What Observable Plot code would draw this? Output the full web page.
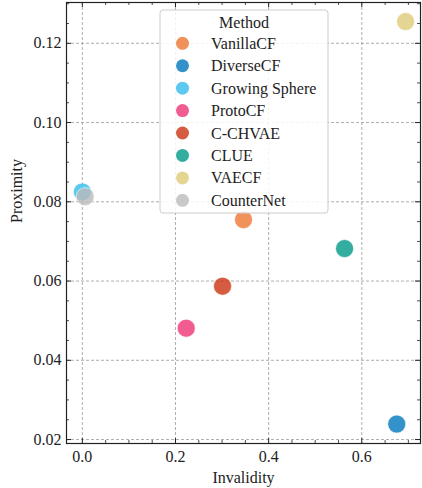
<!DOCTYPE html>
<html><head><meta charset="utf-8">
<script src="https://cdn.jsdelivr.net/npm/d3@7"></script>
<script src="https://cdn.jsdelivr.net/npm/@observablehq/plot@0.6"></script>
<style>body{margin:0;background:#fff}</style>
</head><body><div id="chart"></div>
<script>
const methods = ["VanillaCF","DiverseCF","Growing Sphere","ProtoCF","C-CHVAE","CLUE","VAECF","CounterNet"];
const invalidity = [0.346, 0.675, 0.000, 0.223, 0.301, 0.563, 0.694, 0.006];
const proximity = [0.0755, 0.0239, 0.0825, 0.0481, 0.0587, 0.0682, 0.1255, 0.0813];
const colors = ["#EE7733","#0077BB","#33BBEE","#EE3377","#CC3311","#009988","#DDCC77","#BBBBBB"];
const xMajor = [0, 0.2, 0.4, 0.6];
const yMajor = [0.02, 0.04, 0.06, 0.08, 0.10, 0.12];
const xMinor = d3.range(-0.0, 0.726, 0.05).map(v => +v.toFixed(3)).filter(v => !xMajor.some(m => Math.abs(m - v) < 1e-6));
const yMinor = d3.range(0.02, 0.1303, 0.005).map(v => +v.toFixed(4)).filter(v => !yMajor.some(m => Math.abs(m - v) < 1e-6));

const data = methods.map((m, i) => ({method: m, x: invalidity[i], y: proximity[i]}));

const W = 422, H = 488, mL = 66, mR = 2, mT = 2, mB = 45;
const pw = W - mL - mR, ph = H - mT - mB;
const font = "Liberation Serif";

const chart = Plot.plot({
  width: W, height: H,
  marginLeft: mL, marginRight: mR, marginTop: mT, marginBottom: mB,
  style: {fontFamily: font, fontSize: "16px", background: "white", color: "#222"},
  x: {domain: [-0.034, 0.726], axis: null},
  y: {domain: [0.019, 0.1303], axis: null},
  color: {domain: methods, range: colors},
  marks: [
    Plot.ruleX(xMajor, {stroke: "#999", strokeWidth: 0.8, strokeDasharray: "3,2"}),
    Plot.ruleY(yMajor, {stroke: "#999", strokeWidth: 0.8, strokeDasharray: "3,2"}),
    Plot.tickX(xMajor, {x: d => d, insetTop: ph - 5, stroke: "#222"}),
    Plot.tickX(xMajor, {x: d => d, insetBottom: ph - 5, stroke: "#222"}),
    Plot.tickY(yMajor, {y: d => d, insetRight: pw - 5, stroke: "#222"}),
    Plot.tickY(yMajor, {y: d => d, insetLeft: pw - 5, stroke: "#222"}),
    Plot.tickX(xMinor, {x: d => d, insetTop: ph - 3, stroke: "#222", strokeWidth: 0.8}),
    Plot.tickX(xMinor, {x: d => d, insetBottom: ph - 3, stroke: "#222", strokeWidth: 0.8}),
    Plot.tickY(yMinor, {y: d => d, insetRight: pw - 3, stroke: "#222", strokeWidth: 0.8}),
    Plot.tickY(yMinor, {y: d => d, insetLeft: pw - 3, stroke: "#222", strokeWidth: 0.8}),
    Plot.dot(data, {x: "x", y: "y", fill: "method", r: 9, fillOpacity: 0.8, stroke: "white", strokeWidth: 0.6}),
    Plot.frame({stroke: "#222", strokeWidth: 1.2}),
    Plot.text(xMajor, {x: d => d, frameAnchor: "bottom", dy: 13, text: d => d.toFixed(1), lineAnchor: "middle", fontSize: 16, fontFamily: font}),
    Plot.text(yMajor, {y: d => d, frameAnchor: "left", dx: -5, textAnchor: "end", text: d => d.toFixed(2), lineAnchor: "middle", fontSize: 16, fontFamily: font}),
    Plot.text(["Invalidity"], {frameAnchor: "bottom", dy: 34, text: d => d, lineAnchor: "middle", fontSize: 16, fontFamily: font}),
    Plot.text(["Proximity"], {frameAnchor: "left", dx: -50, rotate: -90, text: d => d, lineAnchor: "middle", fontSize: 16, fontFamily: font})
  ]
});

const svg = d3.select(chart);
const g = svg.append("g").style("font-family", font).attr("font-size", 16).attr("text-anchor", "start");
const lx = 160, ly = 10, lw = 168, lh = 203;
g.append("rect").attr("x", lx).attr("y", ly).attr("width", lw).attr("height", lh)
  .attr("rx", 3).attr("fill", "white").attr("fill-opacity", 0.85).attr("stroke", "#ccc").attr("stroke-width", 1);
g.append("text").attr("x", lx + lw / 2).attr("y", 22.7).attr("dy", "0.35em").attr("text-anchor", "middle").attr("fill", "#222").text("Method");
methods.forEach((m, i) => {
  const cy = 43.3 + i * 22.43;
  g.append("circle").attr("cx", 182.5).attr("cy", cy).attr("r", 6.5).attr("fill", colors[i]).attr("fill-opacity", 0.8);
  g.append("text").attr("x", 211).attr("y", cy).attr("dy", "0.35em").attr("text-anchor", "start").attr("fill", "#222").text(m);
});

document.getElementById("chart").appendChild(chart);
</script>
</body></html>
